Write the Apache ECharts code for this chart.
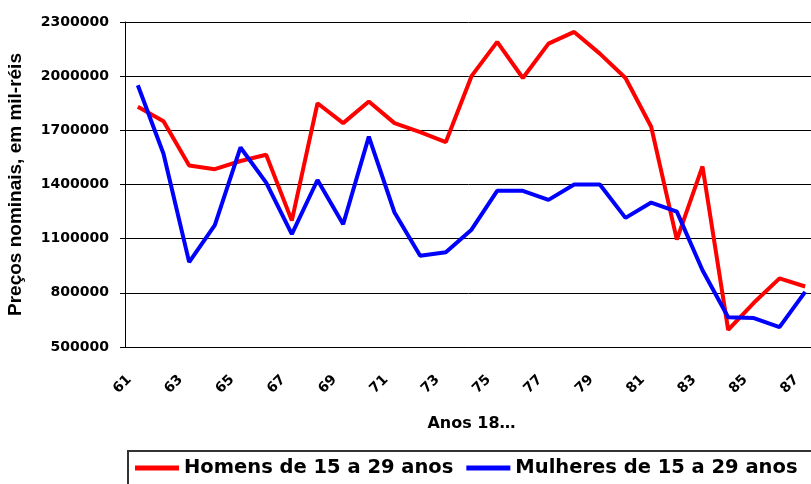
<!DOCTYPE html>
<html>
<head>
<meta charset="utf-8">
<script src="https://cdn.jsdelivr.net/npm/echarts@6/dist/echarts.min.js"></script>
<style>
  html, body { margin: 0; padding: 0; background: #fff; }
  #chart { width: 811px; height: 484px; }
</style>
</head>
<body>
<div id="chart"></div>
<script>
// anos 1861–1887 (eixo mostra só os dois últimos dígitos)
const YEARS = ['61', '62', '63', '64', '65', '66', '67', '68', '69', '70', '71', '72', '73', '74',
  '75', '76', '77', '78', '79', '80', '81', '82', '83', '84', '85', '86', '87']
// preços nominais (mil-réis)
const HOMENS = [1830000, 1750000, 1505000, 1485000, 1530000, 1565000, 1200000, 1850000, 1740000,
  1860000, 1740000, 1690000, 1635000, 2000000, 2190000, 1990000, 2180000, 2245000, 2125000,
  1990000, 1720000, 1095000, 1500000, 595000, 745000, 880000, 835000]
const MULHERES = [1950000, 1570000, 970000, 1175000, 1605000, 1410000, 1125000, 1425000, 1180000,
  1665000, 1245000, 1005000, 1025000, 1150000, 1365000, 1365000, 1315000, 1400000, 1400000,
  1215000, 1300000, 1250000, 925000, 665000, 660000, 610000, 805000]
const NAMES = ['Homens de 15 a 29 anos', 'Mulheres de 15 a 29 anos']
const COLORS = ['#FF0000', '#0000FF']

const WIDE = 'DejaVu Sans'        // glifos largos, como no original esticado
const ARIAL = 'Liberation Sans'

const chart = echarts.init(document.getElementById('chart'), null, { renderer: 'canvas' })
chart.setOption({
  animation: false,
  backgroundColor: '#fff',
  // o gráfico original sai cortado à direita: sem outerBounds, a grade pode passar da borda
  grid: { left: 125, top: 22, width: 693, height: 325, outerBoundsMode: 'none' },
  legend: {
    data: NAMES,
    left: 128, top: 451, width: 700,
    padding: [7, 20, 12, 7],
    itemGap: 13, itemWidth: 44, itemHeight: 5,
    icon: 'rect',
    borderColor: '#333', borderWidth: 2,
    textStyle: { fontFamily: WIDE, fontWeight: 'bold', fontSize: 19.5, color: '#000' },
  },
  xAxis: {
    type: 'category', data: YEARS, boundaryGap: true,
    name: 'Anos 18…', nameLocation: 'middle', nameGap: 69,
    nameTextStyle: { fontFamily: WIDE, fontWeight: 'bold', fontSize: 16, color: '#000' },
    axisLine: { lineStyle: { color: '#000', width: 1 } },
    axisTick: { interval: 0, length: 6, lineStyle: { color: '#000' } },
    // padding à direita empurra o rótulo girado para baixo/esquerda, como no Excel
    axisLabel: { interval: 1, rotate: 45, margin: 22, padding: [0, 12, 0, 0],
      fontFamily: WIDE, fontWeight: 'bold', fontSize: 14, color: '#000' },
    splitLine: { show: false },
  },
  yAxis: {
    type: 'value', min: 500000, max: 2300000, interval: 300000,
    name: 'Preços nominais, em mil-réis', nameLocation: 'middle', nameGap: 100, nameRotate: 90,
    nameTextStyle: { fontFamily: ARIAL, fontWeight: 'bold', fontSize: 19, color: '#000' },
    axisLine: { show: true, lineStyle: { color: '#000', width: 1 } },
    axisTick: { show: true, length: 5, lineStyle: { color: '#000' } },
    axisLabel: { margin: 16, formatter: v => String(v), fontFamily: WIDE, fontWeight: 'bold', fontSize: 14, color: '#000' },
    splitLine: { lineStyle: { color: '#000', width: 1 } },
  },
  series: [HOMENS, MULHERES].map((d, i) => ({
    name: NAMES[i], type: 'line', data: d,
    symbol: 'none',
    lineStyle: { width: 4, color: COLORS[i] },
    itemStyle: { color: COLORS[i] },
  })),
})
</script>
</body>
</html>
